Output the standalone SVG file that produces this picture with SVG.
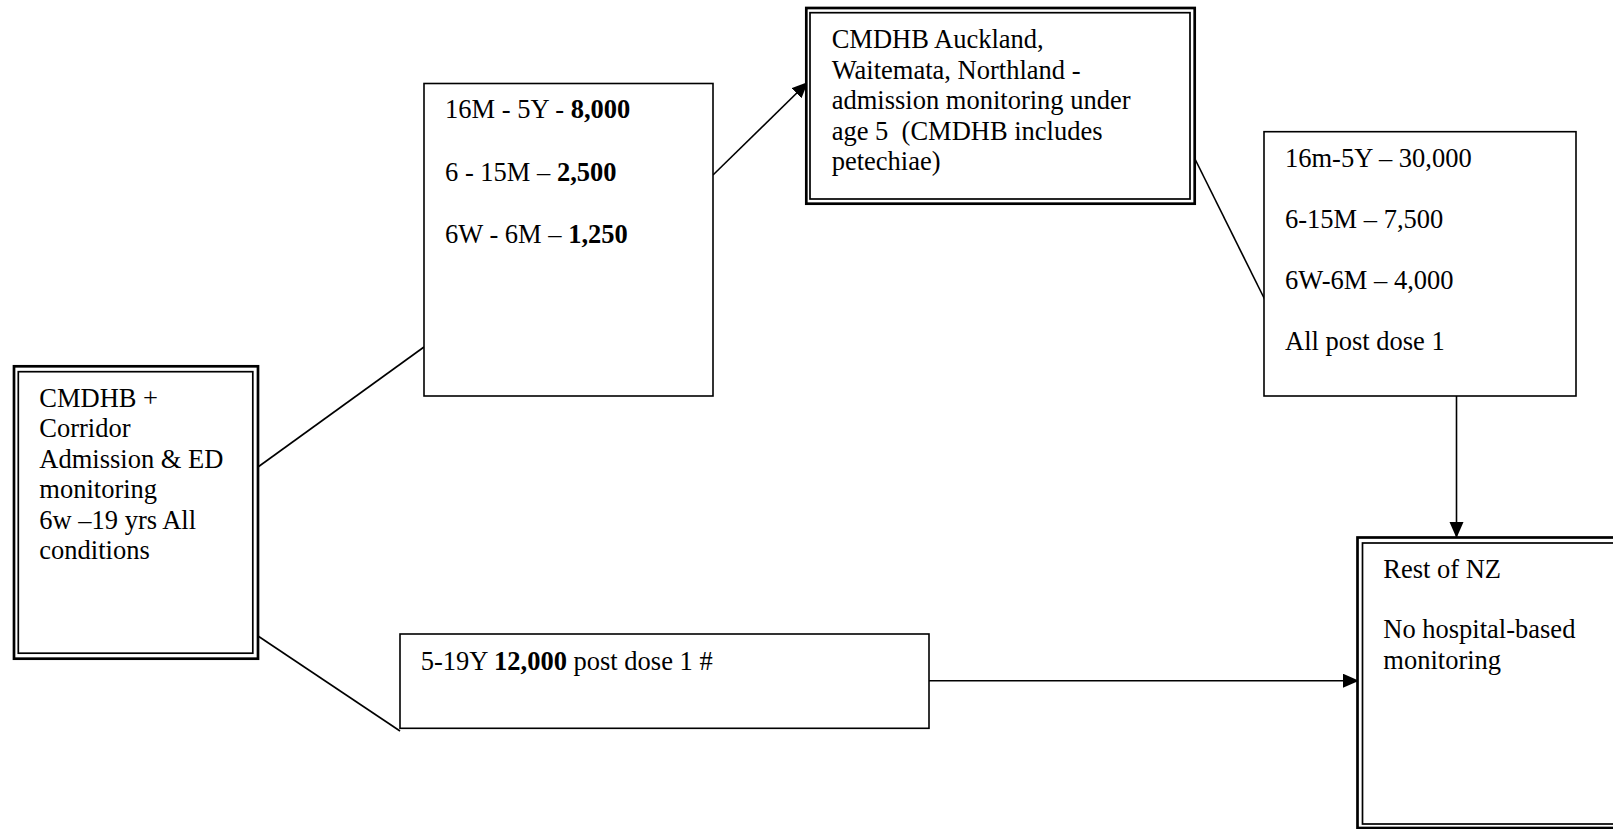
<svg xmlns="http://www.w3.org/2000/svg" width="1613" height="829" viewBox="0 0 1613 829">
<style>
  text { font-family: "Liberation Serif", "Times New Roman", serif; font-size: 26.5px; fill: #000; white-space: pre; }
  .b { font-weight: bold; }
  .box { fill: #fff; stroke: #000; stroke-width: 1.6; }
  .outer { fill: #fff; stroke: #000; stroke-width: 2.7; }
  .inner { fill: none; stroke: #000; stroke-width: 1.7; }
  .conn { fill: none; stroke: #000; stroke-width: 1.6; }
</style>
<defs>
  <marker id="arr" markerUnits="userSpaceOnUse" markerWidth="18" markerHeight="16" refX="16" refY="7" orient="auto">
    <path d="M0,0 L16,7 L0,14 Z" fill="#000"/>
  </marker>
</defs>
<rect width="1613" height="829" fill="#fff"/>

<g id="connectors">
  <line class="conn" x1="258" y1="467" x2="424" y2="347"/>
  <line class="conn" x1="258" y1="636" x2="400" y2="731"/>
  <line class="conn" x1="713" y1="175" x2="808" y2="82" marker-end="url(#arr)"/>
  <line class="conn" x1="1193" y1="155" x2="1265" y2="300"/>
  <line class="conn" x1="1456.5" y1="396" x2="1456.5" y2="538" marker-end="url(#arr)"/>
  <line class="conn" x1="929" y1="680.7" x2="1359" y2="680.7" marker-end="url(#arr)"/>
</g>

<g id="node-cmdhb-corridor">
  <rect class="outer" x="14" y="366.3" width="244" height="292.4"/>
  <rect class="inner" x="18.3" y="371.7" width="234.5" height="281.5"/>
  <text x="39.3" y="406.7">CMDHB +</text>
  <text x="39.3" y="437.2">Corridor</text>
  <text x="39.3" y="467.7">Admission &amp; ED</text>
  <text x="39.3" y="498.2">monitoring</text>
  <text x="39.3" y="528.7">6w –19 yrs All</text>
  <text x="39.3" y="559.2">conditions</text>
</g>

<g id="node-under5-counts">
  <rect class="box" x="424" y="83.5" width="289" height="312.5"/>
  <text x="445" y="118.3">16M - 5Y - <tspan class="b">8,000</tspan></text>
  <text x="445" y="180.8">6 - 15M – <tspan class="b">2,500</tspan></text>
  <text x="445" y="243.3">6W - 6M – <tspan class="b">1,250</tspan></text>
</g>

<g id="node-auckland">
  <rect class="outer" x="806.3" y="8" width="388.4" height="195.7"/>
  <rect class="inner" x="810" y="12.7" width="380" height="186.3"/>
  <text x="831.7" y="48.3">CMDHB Auckland,</text>
  <text x="831.7" y="78.8">Waitemata, Northland -</text>
  <text x="831.7" y="109.3">admission monitoring under</text>
  <text x="831.7" y="139.8">age 5  (CMDHB includes</text>
  <text x="831.7" y="170.3">petechiae)</text>
</g>

<g id="node-auckland-counts">
  <rect class="box" x="1264" y="131.7" width="312" height="264.3"/>
  <text x="1285" y="166.7">16m-5Y – 30,000</text>
  <text x="1285" y="227.8">6-15M – 7,500</text>
  <text x="1285" y="288.9">6W-6M – 4,000</text>
  <text x="1285" y="350">All post dose 1</text>
</g>

<g id="node-5-19">
  <rect class="box" x="400" y="634" width="529" height="94.3"/>
  <text x="420.7" y="670">5-19Y <tspan class="b">12,000</tspan> post dose 1 #</text>
</g>

<g id="node-rest-nz">
  <rect class="outer" x="1357.5" y="537.5" width="270" height="290.5"/>
  <rect class="inner" x="1362.5" y="543" width="260" height="281"/>
  <text x="1383.3" y="577.7">Rest of NZ</text>
  <text x="1383.3" y="638">No hospital-based</text>
  <text x="1383.3" y="668.5">monitoring</text>
</g>
</svg>
